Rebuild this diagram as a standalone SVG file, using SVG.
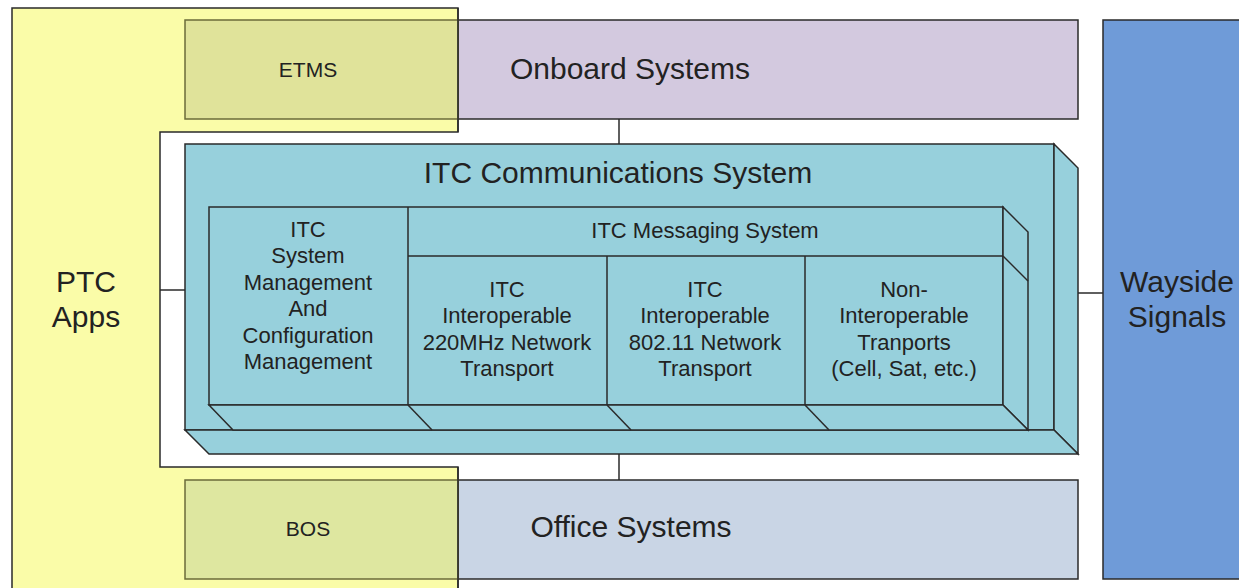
<svg xmlns="http://www.w3.org/2000/svg" width="1239" height="588" viewBox="0 0 1239 588">
<style>
.s{stroke:#2a2a2a;stroke-width:1.5;stroke-linejoin:miter}
.itc{fill:#97d0dc}
.t{font-family:"Liberation Sans",Arial,sans-serif;fill:#222;text-anchor:middle}
.big{font-size:30px}
.mid{font-size:22px}
.sm{font-size:21px}
.ln{stroke:#2a2a2a;stroke-width:1.5;fill:none}
</style>
<rect width="1239" height="588" fill="#ffffff"/>
<g id="onboard">
<rect class="s" x="185" y="20" width="893" height="99" fill="#d3c9df"/>
<text class="t big" x="630" y="79">Onboard Systems</text>
</g>
<g id="office">
<rect class="s" x="185" y="480" width="893" height="99" fill="#c9d5e5"/>
<text class="t big" x="631" y="537">Office Systems</text>
</g>
<g id="wayside">
<rect class="s" x="1103" y="20" width="150" height="559" fill="#6f9bd8"/>
<text class="t big" x="1177" y="292">Wayside</text>
<text class="t big" x="1177" y="327">Signals</text>
</g>
<g id="ptc">
<polygon class="s" points="12,8 458,8 458,132 160,132 160,467 458,467 458,596 12,596" fill="#fafca8"/>
<text class="t big" x="86" y="292">PTC</text>
<text class="t big" x="86" y="327">Apps</text>
</g>
<g id="etms">
<rect x="185" y="20" width="273" height="99" fill="#e0e39a" stroke="#6b6b3a" stroke-width="1.5"/>
<line x1="458" y1="8" x2="458" y2="132" class="ln"/>
<text class="t sm" x="308" y="77">ETMS</text>
</g>
<g id="bos">
<rect x="185" y="480" width="273" height="99" fill="#dee7a0" stroke="#6b6b3a" stroke-width="1.5"/>
<line x1="458" y1="467" x2="458" y2="588" class="ln"/>
<text class="t sm" x="308" y="536">BOS</text>
</g>
<g id="connectors">
<line class="ln" x1="619" y1="119" x2="619" y2="144"/>
<line class="ln" x1="619" y1="454" x2="619" y2="480"/>
<line class="ln" x1="160" y1="290" x2="185" y2="290"/>
<line class="ln" x1="1078" y1="293" x2="1103" y2="293"/>
</g>
<g id="itc-comm">
<rect class="s itc" x="185" y="144" width="869" height="286"/>
<polygon class="s itc" points="1054,144 1078,168 1078,454 1054,430"/>
<polygon class="s itc" points="185,430 1054,430 1078,454 209,454"/>
<text class="t big" x="618" y="183">ITC Communications System</text>
</g>
<g id="itc-inner">
<rect class="s itc" x="209" y="207" width="794" height="198"/>
<polygon class="s itc" points="1003,207 1028,232 1028,430 1003,405"/>
<polygon class="s itc" points="209,405 1003,405 1028,430 233,430"/>
<line class="ln" x1="408" y1="207" x2="408" y2="405"/>
<line class="ln" x1="408" y1="256" x2="1003" y2="256"/>
<line class="ln" x1="1003" y1="256" x2="1028" y2="281"/>
<line class="ln" x1="607" y1="256" x2="607" y2="405"/>
<line class="ln" x1="805" y1="256" x2="805" y2="405"/>
<line class="ln" x1="408" y1="405" x2="432" y2="430"/>
<line class="ln" x1="607" y1="405" x2="631" y2="430"/>
<line class="ln" x1="805" y1="405" x2="829" y2="430"/>
</g>
<g id="sysmgmt">
<text class="t mid" x="308" y="237">ITC</text>
<text class="t mid" x="308" y="263">System</text>
<text class="t mid" x="308" y="290">Management</text>
<text class="t mid" x="308" y="316">And</text>
<text class="t mid" x="308" y="343">Configuration</text>
<text class="t mid" x="308" y="369">Management</text>
</g>
<g id="messaging">
<text class="t mid" x="705" y="238">ITC Messaging System</text>
</g>
<g id="net220">
<text class="t mid" x="507" y="297">ITC</text>
<text class="t mid" x="507" y="323">Interoperable</text>
<text class="t mid" x="507" y="350">220MHz Network</text>
<text class="t mid" x="507" y="376">Transport</text>
</g>
<g id="net80211">
<text class="t mid" x="705" y="297">ITC</text>
<text class="t mid" x="705" y="323">Interoperable</text>
<text class="t mid" x="705" y="350">802.11 Network</text>
<text class="t mid" x="705" y="376">Transport</text>
</g>
<g id="nonint">
<text class="t mid" x="904" y="297">Non-</text>
<text class="t mid" x="904" y="323">Interoperable</text>
<text class="t mid" x="904" y="350">Tranports</text>
<text class="t mid" x="904" y="376">(Cell, Sat, etc.)</text>
</g>
</svg>
